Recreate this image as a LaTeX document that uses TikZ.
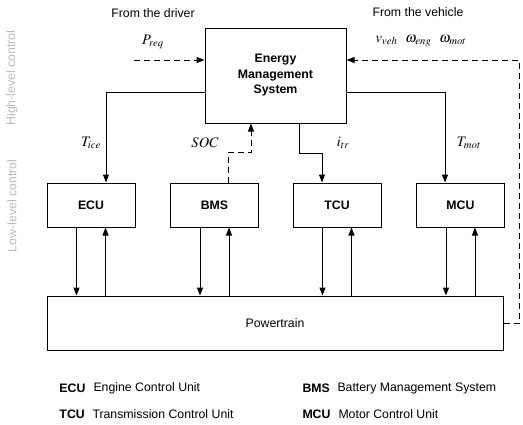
\documentclass[tikz,border=0pt]{standalone}
\usepackage{mathptmx}
\usepackage{fontspec}
\setmainfont{Liberation Sans}
\usetikzlibrary{arrows.meta}

\begin{document}
\begin{tikzpicture}[x=1pt,y=-1pt,>={Triangle[length=8pt,width=6pt]},line width=1pt,
                    font=\fontsize{12.3}{15.5}\selectfont]
  \tikzstyle{box}=[draw,inner sep=0pt,font=\fontsize{12.3}{15.5}\selectfont\bfseries]
  \tikzstyle{unit}=[box,minimum width=88pt,minimum height=44pt]
  \tikzstyle{sig}=[->]
  \tikzstyle{meas}=[->,dash pattern=on 6pt off 4pt]
  \tikzstyle{var}=[inner sep=1pt,font=\fontsize{14.5}{17}\selectfont]
  \tikzstyle{level}=[rotate=90,text=gray!55]
  \tikzstyle{abbr}=[anchor=west,inner sep=0pt,font=\fontsize{12.3}{15.5}\selectfont\bfseries]
  \tikzstyle{expl}=[anchor=west,inner sep=0pt]
  \useasboundingbox (0,0) rectangle (523,424);

  % control levels
  \node[level] (high) at (12,78) {High-level control};
  \node[level] (low) at (12,206) {Low-level control};

  % blocks
  \node[box,minimum width=141pt,minimum height=95pt,align=center] (ems) at (275.5,75.5)
       {Energy\\Management\\System};
  \node[unit] (ecu) at (91,205) {ECU};
  \node[unit] (bms) at (214.5,205) {BMS};
  \node[unit] (tcu) at (337,205) {TCU};
  \node[unit] (mcu) at (460.5,205) {MCU};
  \node[draw,minimum width=456pt,minimum height=54pt] (pt) at (275,323) {Powertrain};

  % inputs
  \node[inner sep=1pt] (driver) at (153,13) {From the driver};
  \node[inner sep=1pt] (vehicle) at (418,12) {From the vehicle};
  \node[var] (preq) at (153,42) {$P_{req}$};
  \node[var] (vvar) at (421,41) {$v_{veh}\ \ \omega_{eng}\ \ \omega_{mot}$};
  \coordinate (drv) at (134,60);
  \coordinate (fb) at (519,60);

  \draw[meas] (drv) -- (ems.west |- drv);
  \draw[meas] (pt.east) -- (pt.east -| fb) -- (fb) -- (ems.east |- fb);

  % set points
  \draw[sig] ([yshift=-16.5pt]ems.west) -| ([xshift=15pt]ecu.north);
  \draw[sig] ([yshift=-16.5pt]ems.east) -| ([xshift=-15.5pt]mcu.north);
  \draw[sig] ([xshift=23.5pt]ems.south) -- ++(0,30) -| ([xshift=-15pt]tcu.north);
  \draw[meas] ([xshift=13.5pt]bms.north) -- ++(0,-30) -| ([xshift=-24.5pt]ems.south);

  \node[var] (tice) at (91,143) {$T_{ice}$};
  \node[var] (soc) at (205,143) {$SOC$};
  \node[var] (itr) at (343,143) {$i_{tr}$};
  \node[var] (tmot) at (469,143) {$T_{mot}$};

  % low-level loops
  \foreach \u in {ecu,bms,tcu,mcu} {
    \draw[sig] ([xshift=-14.5pt]\u.south) -- ([xshift=-14.5pt]\u.south |- pt.north);
    \draw[sig] ([xshift=14.5pt]\u.south |- pt.north) -- ([xshift=14.5pt]\u.south);
  }

  % legend
  \node[abbr] (lecu) at (59,388) {ECU};
  \node[expl] (tecu) at (93,388) {Engine Control Unit};
  \node[abbr] (lbms) at (302,388) {BMS};
  \node[expl] (tbms) at (337,388) {Battery Management System};
  \node[abbr] (ltcu) at (59,414) {TCU};
  \node[expl] (ttcu) at (92,414) {Transmission Control Unit};
  \node[abbr] (lmcu) at (302,414) {MCU};
  \node[expl] (tmcu) at (338,414) {Motor Control Unit};
\end{tikzpicture}
\end{document}
